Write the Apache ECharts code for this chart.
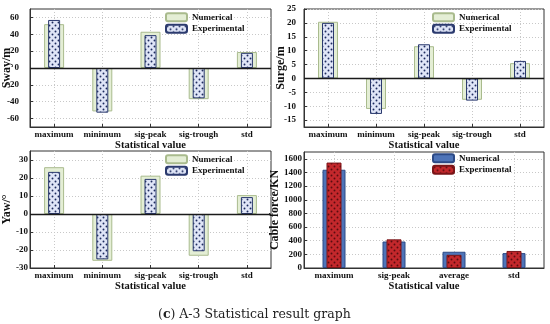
<!DOCTYPE html>
<html>
<head>
<meta charset="utf-8">
<script src="https://cdn.jsdelivr.net/npm/echarts@6/dist/echarts.min.js"></script>
<style>
html,body{margin:0;padding:0;background:#fff;}
#c{width:550px;height:324px;}
</style>
</head>
<body>
<div id="c"></div>
<script>
// ---- data ----
const catsMotion = ['maximum', 'minimum', 'sig-peak', 'sig-trough', 'std'];
const swayNum = [52, -51.5, 43, -37, 19];
const swayExp = [57, -53, 39, -36, 18];
const surgeNum = [20.4, -11, 11.6, -7.7, 5.5];
const surgeExp = [20, -12.8, 12.3, -8, 6.3];
const yawNum = [26, -26, 21.3, -23.2, 10.5];
const yawExp = [23.4, -25.2, 19.5, -20.7, 9.4];
const catsCable = ['maximum', 'sig-peak', 'average', 'std'];
const cableNum = [1440, 388, 238, 218];
const cableExp = [1545, 420, 193, 250];

const swayTicks = [-60, -40, -20, 0, 20, 40, 60];
const surgeTicks = [-15, -10, -5, 0, 5, 10, 15, 20, 25];
const yawTicks = [-30, -20, -10, 0, 10, 20, 30];
const cableTicks = [0, 200, 400, 600, 800, 1000, 1200, 1400, 1600];

const FONT = 'Liberation Serif';

function dotPattern(bg, dot) {
  const c = document.createElement('canvas');
  c.width = 6; c.height = 6;
  const g = c.getContext('2d');
  g.fillStyle = bg; g.fillRect(0, 0, 6, 6);
  g.fillStyle = dot;
  [[1.5, 1.5], [4.5, 4.5]].forEach(function (p) {
    g.beginPath(); g.arc(p[0], p[1], 0.95, 0, Math.PI * 2); g.fill();
  });
  return { image: c, repeat: 'repeat' };
}

const blueDots = dotPattern('#dfe5f7', '#1d2b5e');
const redDots = dotPattern('#c3282c', '#5a0c10');

const panels = [
  { grid: { left: 30, top: 9, width: 241, height: 118 }, cats: catsMotion, num: swayNum, exp: swayExp,
    min: -70, max: 70, ticks: swayTicks, yName: 'Sway/m', yGap: 17, yMargin: 11,
    numName: 'Numerical', expName: 'Experimental', numW: 20, expW: 12,
    numStyle: { color: '#e4eed5', borderColor: '#a9bb8d', borderWidth: 1 },
    expStyle: { color: blueDots, borderColor: '#2b3a6e', borderWidth: 1 },
    legend: { left: 165, top: 12 }, zero: true },
  { grid: { left: 304, top: 9, width: 240, height: 118 }, cats: catsMotion, num: surgeNum, exp: surgeExp,
    min: -17.5, max: 25, ticks: surgeTicks, yName: 'Surge/m', yGap: 17, yMargin: 8,
    numName: 'Numerical', expName: 'Experimental', numW: 20, expW: 12,
    numStyle: { color: '#e4eed5', borderColor: '#a9bb8d', borderWidth: 1 },
    expStyle: { color: blueDots, borderColor: '#2b3a6e', borderWidth: 1 },
    legend: { left: 432, top: 12 }, zero: true },
  { grid: { left: 30, top: 151, width: 241, height: 117 }, cats: catsMotion, num: yawNum, exp: yawExp,
    min: -30, max: 35, ticks: yawTicks, yName: 'Yaw/°', yGap: 17, yMargin: 2,
    numName: 'Numerical', expName: 'Experimental', numW: 20, expW: 12,
    numStyle: { color: '#e4eed5', borderColor: '#a9bb8d', borderWidth: 1 },
    expStyle: { color: blueDots, borderColor: '#2b3a6e', borderWidth: 1 },
    legend: { left: 165, top: 154 }, zero: true },
  { grid: { left: 304, top: 152, width: 240, height: 116 }, cats: catsCable, num: cableNum, exp: cableExp,
    min: 0, max: 1700, ticks: cableTicks, yName: 'Cable force/KN', yGap: 23, yMargin: 2,
    numName: 'Numerical#', expName: 'Experimental#', numW: 23, expW: 15,
    numStyle: { color: '#4e74b8', borderColor: '#2c4a86', borderWidth: 1 },
    expStyle: { color: redDots, borderColor: '#7a1518', borderWidth: 1 },
    legend: { left: 432, top: 153 }, zero: false }
];

const option = {
  animation: false,
  backgroundColor: '#fff',
  textStyle: { fontFamily: FONT },
  title: {
    left: 153, top: 303,
    text: '({b|c}) A-3 Statistical result graph',
    textStyle: {
      fontFamily: 'DejaVu Serif', fontSize: 12.5, fontWeight: 'normal', color: '#222',
      rich: { b: { fontFamily: 'DejaVu Serif', fontSize: 12.5, fontWeight: 'bold', color: '#222' } }
    }
  },
  grid: [], xAxis: [], yAxis: [], series: [], legend: []
};

panels.forEach(function (p, i) {
  option.grid.push(Object.assign({ show: true, borderColor: '#333', borderWidth: 1, backgroundColor: '#fff' }, p.grid));
  const xBase = {
    type: 'category', gridIndex: i, data: p.cats, position: 'bottom'
  };
  option.xAxis.push(Object.assign({}, xBase, {
    axisLine: { onZero: false, lineStyle: { color: '#333' } },
    axisTick: { show: true, inside: true, alignWithLabel: true, length: 3, lineStyle: { color: '#333' } },
    splitLine: { show: true, alignWithLabel: true, lineStyle: { color: '#c8c8c8', type: [1, 2], width: 1 } },
    axisLabel: { fontFamily: FONT, fontWeight: 'bold', fontSize: 9, color: '#111', margin: 3, interval: 0 },
    name: 'Statistical value', nameLocation: 'middle', nameGap: 13, nameMoveOverlap: false,
    nameTextStyle: { fontFamily: FONT, fontWeight: 'bold', fontSize: 10.5, color: '#111' }
  }));
  option.xAxis.push(Object.assign({}, xBase, { show: false }));
  option.yAxis.push({
    type: 'value', gridIndex: i, min: p.min, max: p.max,
    axisLine: { show: true, lineStyle: { color: '#333' } },
    axisTick: { show: true, inside: true, length: 3, customValues: p.ticks, lineStyle: { color: '#333' } },
    axisLabel: { fontFamily: FONT, fontWeight: 'bold', fontSize: 9, color: '#111', margin: p.yMargin,
      customValues: p.ticks, formatter: function (v) { return String(v); } },
    splitLine: { show: true, lineStyle: { color: '#c8c8c8', type: [1, 2], width: 1 } },
    name: p.yName, nameLocation: 'middle', nameGap: p.yGap, nameMoveOverlap: false,
    nameTextStyle: { fontFamily: FONT, fontWeight: 'bold', fontSize: 12, color: '#111' }
  });
  option.series.push({
    type: 'bar', name: p.numName, xAxisIndex: i * 2, yAxisIndex: i,
    data: p.num, barWidth: p.numW, itemStyle: p.numStyle, z: 2
  });
  const expSeries = {
    type: 'bar', name: p.expName, xAxisIndex: i * 2 + 1, yAxisIndex: i,
    data: p.exp, barWidth: p.expW, itemStyle: p.expStyle, z: 3
  };
  if (p.zero) {
    expSeries.markLine = {
      silent: true, symbol: 'none', label: { show: false },
      lineStyle: { color: '#1a1a1a', type: 'solid', width: 1.3 },
      data: [{ yAxis: 0 }]
    };
  }
  option.series.push(expSeries);
  option.legend.push({
    orient: 'vertical', left: p.legend.left, top: p.legend.top,
    data: [p.numName, p.expName], itemWidth: 21, itemHeight: 8, itemGap: 1,
    selectedMode: false, padding: 0,
    formatter: function (n) { return n.replace('#', ''); },
    textStyle: { fontFamily: FONT, fontWeight: 'bold', fontSize: 9, color: '#111', lineHeight: 10.5 }
  });
});

const chart = echarts.init(document.getElementById('c'), null, { renderer: 'canvas' });
chart.setOption(option);
</script>
</body>
</html>
